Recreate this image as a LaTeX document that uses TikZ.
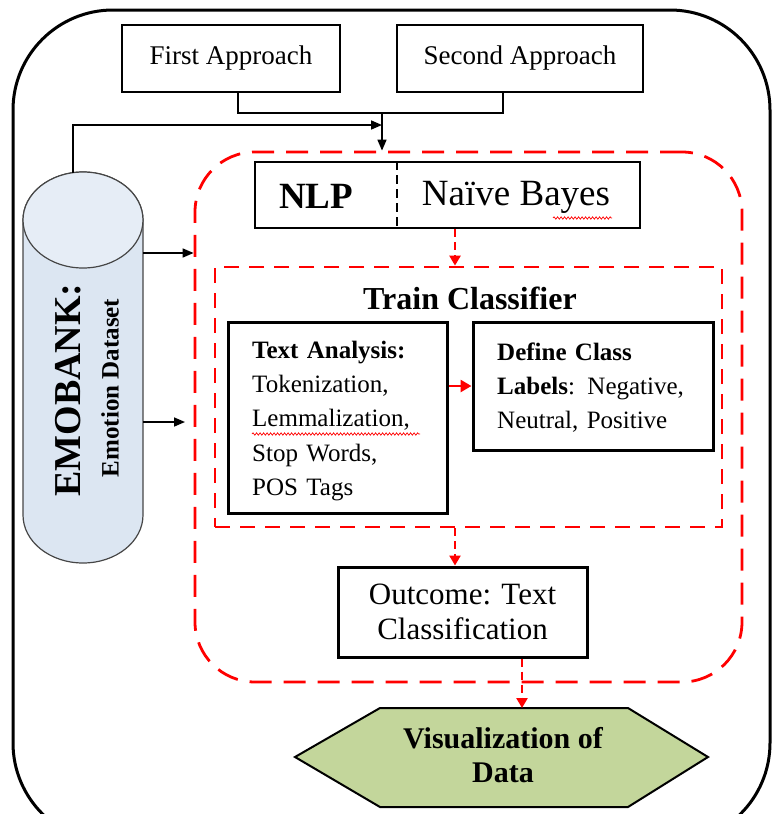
\documentclass[tikz,border=0pt]{standalone}
\usepackage{fontspec}
\setmainfont{Liberation Serif}
\usetikzlibrary{arrows.meta,decorations.pathmorphing,calc}
\definecolor{cylfill}{RGB}{220,230,242}
\definecolor{cyledge}{RGB}{70,70,70}
\definecolor{hexfill}{RGB}{195,214,155}
\definecolor{dred}{RGB}{255,0,0}
\begin{document}
\begin{tikzpicture}[x=1pt,y=-1pt,
  box/.style={draw=black,line width=2pt,fill=white,inner sep=0pt},
  thickbox/.style={draw=black,line width=3pt,fill=white,inner sep=0pt},
  blk/.style={line width=1.6pt,-{Triangle[length=11pt,width=9pt]}},
  plain/.style={line width=1.6pt},
  redarr/.style={draw=dred,line width=2.6pt,dash pattern=on 8pt off 5pt,-{Triangle[length=10pt,width=11pt]}},
  redbox/.style={draw=dred,line width=2.8pt,inner sep=0pt},
  wavy/.style={draw=red,line width=0.7pt,decorate,decoration={snake,amplitude=1.2pt,segment length=3.5pt}},
  lbl/.style={inner sep=0pt}
]
\useasboundingbox (0,0) rectangle (772,814);
\clip (0,0) rectangle (772,814);

% outer frame
\draw[line width=3pt,rounded corners=100pt] (13,10) rectangle (770,843);

% big red dashed container
\node[redbox,dash pattern=on 22pt off 12pt,rounded corners=60pt,minimum width=547pt,minimum height=530pt] (big) at (468.5,417) {};

% inner dashed container
\node[redbox,dash pattern=on 15pt off 10pt,minimum width=507pt,minimum height=260pt] (inner) at (468.5,397) {};
\node[lbl,font=\fontsize{32}{36}\selectfont\bfseries] (train) at (470,298) {Train Classifier};

% top boxes
\node[box,minimum width=218pt,minimum height=67pt,font=\fontsize{27}{30}\selectfont] (first) at (231,58.5) {First Approach};
\node[box,minimum width=246pt,minimum height=67pt,font=\fontsize{27}{30}\selectfont] (second) at (520,58.5) {Second Approach};

% NLP box
\node[box,minimum width=385pt,minimum height=66pt] (nlp) at (447.5,195) {};
\coordinate (dv) at (397,0);
\draw[line width=2pt,dash pattern=on 9pt off 5pt] (nlp.north -| dv) -- (nlp.south -| dv);
\node[lbl,font=\fontsize{37}{40}\selectfont\bfseries] (nlptxt) at (316,196) {NLP};
\node[lbl,font=\fontsize{37}{40}\selectfont] (nb) at (516,197) {Naïve Bayes};
\draw[wavy] (553,218) -- (612,218);

% text analysis & define class
\node[thickbox,minimum width=219pt,minimum height=191pt] (ta) at (337.5,417.5) {};
\node[lbl,text width=175pt,align=left,anchor=west,font=\fontsize{25}{34.3}\selectfont] (tatext) at (252,421)
 {\textbf{Text Analysis:}\\Tokenization,\\Lemmalization,\\Stop Words,\\POS Tags};
\draw[wavy] (252,434) -- (420,434);
\node[thickbox,minimum width=240pt,minimum height=128pt] (dc) at (593,386) {};
\node[lbl,text width=210pt,align=left,anchor=west,font=\fontsize{25}{34}\selectfont] (dctext) at (497,388)
 {\textbf{Define Class}\\\textbf{Labels}: Negative,\\Neutral, Positive};
\draw[draw=dred,line width=2.6pt,-{Triangle[length=11pt,width=12pt]}] (ta.east |- dc.west) -- (dc.west);

% outcome
\node[thickbox,minimum width=249pt,minimum height=90pt,align=center,font=\fontsize{31}{35}\selectfont] (out) at (462.5,612) {Outcome: Text\\Classification};

% visualization hexagon
\draw[line width=2pt,fill=hexfill] (295,757) -- (380,708) -- (628,708) -- (708,757) -- (628,807) -- (380,807) -- cycle;
\coordinate (hextop) at (522,708);
\node[lbl,align=center,font=\fontsize{30}{34}\selectfont\bfseries] (viz) at (503,755) {Visualization of\\Data};

% cylinder
\path[fill=cylfill,draw=cyledge,line width=1.2pt] (23,220) -- (23,515) arc[start angle=180,end angle=360,x radius=60pt,y radius=48pt] -- (143,220) arc[start angle=0,end angle=180,x radius=60pt,y radius=48pt] -- cycle;
\draw[fill=cylfill!70!white,draw=cyledge,line width=1.2pt] (83,220) ellipse[x radius=60pt,y radius=48pt];
\node[lbl,rotate=90,font=\fontsize{38}{40}\selectfont\bfseries] (emo) at (68,390) {EMOBANK:};
\node[lbl,rotate=90,font=\fontsize{25}{28}\selectfont\bfseries] (emods) at (110,388) {Emotion Dataset};
\coordinate (ct) at (73,173);
\coordinate (a1) at (143,253);
\coordinate (a2) at (143,422);
\coordinate (a2e) at (185,422);

% black connectors
\coordinate (j) at (382,113);
\coordinate (k) at (382,125);
\draw[plain] ([xshift=7pt]first.south) |- (j);
\draw[plain] ([xshift=-17pt]second.south) |- (j);
\draw[blk] (j) -- (j |- big.north);
\draw[blk] (ct) |- (k);
\draw[blk] (a1) -- (a1 -| big.west);
\draw[blk] (a2) -- (a2e);

% red dashed arrows
\coordinate (r1) at (455,0);
\draw[redarr] (nlp.south -| r1) -- (inner.north -| r1);
\draw[redarr] (inner.south -| r1) -- (out.north -| r1);
\draw[redarr] (out.south -| hextop) -- (hextop);
\end{tikzpicture}
\end{document}
